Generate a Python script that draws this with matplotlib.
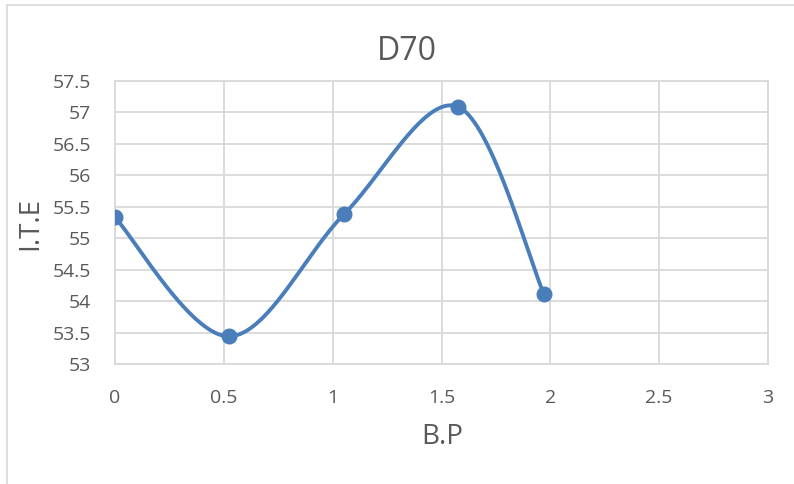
import numpy as np
import matplotlib.pyplot as plt
from matplotlib.lines import Line2D

plt.rcParams['font.family'] = ['Open Sans', 'DejaVu Sans']

# data
bp = [0.0, 0.524, 1.052, 1.576, 1.971]
ite = [55.33, 53.44, 55.38, 57.09, 54.11]

x_ticks = [0, 0.5, 1, 1.5, 2, 2.5, 3]
x_labels = ['0', '0.5', '1', '1.5', '2', '2.5', '3']
y_ticks = [53, 53.5, 54, 54.5, 55, 55.5, 56, 56.5, 57, 57.5]
y_labels = ['53', '53.5', '54', '54.5', '55', '55.5', '56', '56.5', '57', '57.5']

text_c = '#595959'
grid_c = '#d9d9d9'
line_c = '#4a7ebb'


def smooth(xs, ys, n=60):
    # Excel-like smoothed line: Bezier segments with catmull-rom style control points
    xs = np.asarray(xs, float)
    ys = np.asarray(ys, float)
    px = np.concatenate([[xs[0]], xs, [xs[-1]]])
    py = np.concatenate([[ys[0]], ys, [ys[-1]]])
    out_x, out_y = [], []
    t = np.linspace(0, 1, n)
    for i in range(1, len(px) - 2):
        p0 = np.array([px[i], py[i]])
        p3 = np.array([px[i + 1], py[i + 1]])
        c1 = p0 + (np.array([px[i + 1], py[i + 1]]) - np.array([px[i - 1], py[i - 1]])) / 6
        c2 = p3 - (np.array([px[i + 2], py[i + 2]]) - np.array([px[i], py[i]])) / 6
        b = ((1 - t) ** 3)[:, None] * p0 + (3 * (1 - t) ** 2 * t)[:, None] * c1 \
            + (3 * (1 - t) * t ** 2)[:, None] * c2 + (t ** 3)[:, None] * p3
        out_x.extend(b[:, 0])
        out_y.extend(b[:, 1])
    return out_x, out_y


fig = plt.figure(figsize=(7.94, 4.84), dpi=100)
ax = fig.add_axes([115 / 794, 1 - 364 / 484, (768 - 115) / 794, (364 - 81) / 484])

sx, sy = smooth(bp, ite)
ax.plot(sx, sy, color=line_c, lw=2.8, solid_capstyle='round', zorder=3)
ax.plot(bp, ite, 'o', color=line_c, ms=10.5, zorder=4)

ax.set_xlim(0, 3)
ax.set_ylim(53, 57.5)
ax.set_xticks(x_ticks)
ax.set_xticklabels(x_labels)
ax.set_yticks(y_ticks)
ax.set_yticklabels(y_labels)
ax.grid(True, color=grid_c, lw=1.3)
ax.set_axisbelow(True)
for s in ax.spines.values():
    s.set_color(grid_c)
    s.set_linewidth(1.3)
ax.tick_params(length=0, labelsize=14, colors=text_c)
ax.tick_params(axis='y', pad=17)
ax.tick_params(axis='x', pad=18)

# title and axis titles placed as in the chart
fig.text(407 / 794, 1 - 51 / 484, 'D70', fontsize=23, color=text_c, ha='center', va='center')
fig.text(442 / 794, 1 - 437 / 484, 'B.P', fontsize=20, color=text_c, ha='center', va='center')
fig.text(30 / 794, 1 - 224 / 484, 'I.T.E', fontsize=20, color=text_c, ha='center', va='center',
         rotation=90)

# chart frame border (only top and left visible)
fig.add_artist(Line2D([7 / 794, 7 / 794], [0, 1 - 5 / 484], color=grid_c, lw=1.2))
fig.add_artist(Line2D([7 / 794, 1], [1 - 5 / 484, 1 - 5 / 484], color=grid_c, lw=1.2))

fig.savefig('out.png', dpi=100)
